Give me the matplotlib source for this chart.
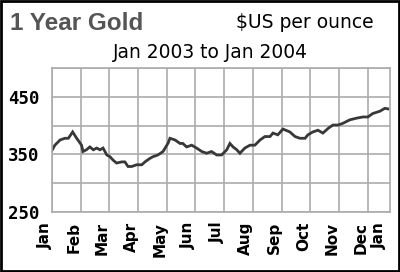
import numpy as np
import matplotlib
matplotlib.use("Agg")
import matplotlib.pyplot as plt
import matplotlib.transforms as mtransforms
from matplotlib.patches import Rectangle

# Gold price, Jan 2003 to Jan 2004 (x in months from 1 Jan 2003, $US per ounce)
months = [0.00, 0.10, 0.28, 0.45, 0.57, 0.72, 0.86, 1.03, 1.08, 1.20, 1.32, 1.44,
          1.56, 1.67, 1.78, 1.91, 2.02, 2.13, 2.25, 2.43, 2.54, 2.65, 2.78, 2.95,
          3.13, 3.24, 3.41, 3.52, 3.69, 3.87, 4.05, 4.11, 4.29, 4.46, 4.56, 4.69,
          4.87, 5.04, 5.22, 5.39, 5.56, 5.74, 5.91, 6.09, 6.20, 6.31, 6.44, 6.55,
          6.72, 6.90, 7.07, 7.25, 7.42, 7.60, 7.70, 7.87, 8.05, 8.29, 8.47, 8.64,
          8.82, 8.92, 9.09, 9.27, 9.44, 9.62, 9.79, 9.97, 10.14, 10.38, 10.62, 10.84,
          11.01, 11.18, 11.43, 11.60, 11.71]
price = [357, 366, 375, 378, 378, 389, 378, 366, 355, 358, 363, 358,
         361, 358, 361, 349, 346, 340, 335, 337, 337, 329, 329, 332,
         332, 337, 343, 346, 349, 355, 370, 378, 375, 369, 369, 363,
         366, 361, 355, 352, 355, 349, 349, 358, 369, 363, 358, 352,
         361, 366, 366, 375, 381, 381, 387, 384, 394, 389, 381, 378,
         378, 384, 389, 392, 387, 395, 401, 401, 404, 410, 413, 415,
         415, 421, 425, 430, 429]

month_labels = ["Jan", "Feb", "Mar", "Apr", "May", "Jun", "Jul",
                "Aug", "Sep", "Oct", "Nov", "Dec", "Jan"]
label_pos = list(range(12)) + [11.64]
y_labels = [250, 350, 450]
y_grid = [300, 400, 500]

grid_col = "#ababab"

fig = plt.figure(figsize=(4, 2.72), dpi=100)
ax = fig.add_axes([0.13, 0.2206, 0.845, 0.5294])

ax.plot(months, price, color="#383838", linewidth=2.0, solid_joinstyle="miter")

ax.set_xlim(0, 11.78)
ax.set_ylim(250, 500)

ax.xaxis.remove_overlapping_locs = False
ax.set_xticks(range(12), minor=True)
ax.set_xticks(label_pos, month_labels)
ax.set_yticks(y_grid, minor=True)
ax.set_yticks(y_labels, [str(v) for v in y_labels])

ax.grid(which="minor", color=grid_col, linewidth=1.2)
ax.grid(which="major", axis="y", color=grid_col, linewidth=1.2)
ax.set_axisbelow(True)
ax.tick_params(which="both", length=0)
ax.tick_params(axis="x", pad=7)
ax.tick_params(axis="y", pad=9)
for s in ax.spines.values():
    s.set_color(grid_col)
    s.set_linewidth(1.2)

for lab in ax.get_xticklabels():
    lab.set_rotation(90)
    lab.set_fontsize(11)
    lab.set_fontweight("bold")
    lab.set_transform(lab.get_transform() +
                      mtransforms.ScaledTranslation(-5 / 72, 0, fig.dpi_scale_trans))
for lab in ax.get_yticklabels():
    lab.set_family("DejaVu Sans Mono")
    lab.set_fontsize(12.5)
    lab.set_fontweight("bold")

# Titles
fig.text(10 / 400, 1 - 30 / 272, "1 Year Gold", fontsize=17.5, fontweight="bold",
         color="#555555", family="Liberation Sans", ha="left", va="baseline")
fig.text(305 / 400, 1 - 28 / 272, "$US per ounce", fontsize=13.5,
         family="DejaVu Sans", ha="center", va="baseline")
fig.text(210 / 400, 1 - 58 / 272, "Jan 2003 to Jan 2004", fontsize=13.4,
         family="DejaVu Sans", ha="center", va="baseline")

# Outer frame
fig.patches.append(Rectangle((0.003, 0.003), 0.994, 0.994, transform=fig.transFigure,
                             fill=False, edgecolor="black", linewidth=2))

fig.savefig("out.png", dpi=100)
